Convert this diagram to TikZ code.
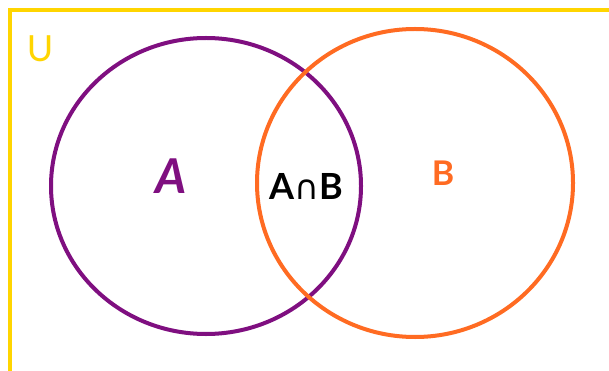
\documentclass[tikz,border=0pt]{standalone}
\usepackage{fontspec}
\setmainfont{Lato}
\newfontfamily\symfont{DejaVu Sans}
\definecolor{upurple}{HTML}{7F0F80}
\definecolor{uorange}{HTML}{FF6B22}
\definecolor{uyellow}{HTML}{FFD500}
\begin{document}
\begin{tikzpicture}[x=1pt,y=-1pt,
  setline/.style={line width=4pt},
  lbl/.style={inner sep=0pt,font=\bfseries}]
\useasboundingbox (0,0) rectangle (609,371);
\fill[white] (0,0) rectangle (609,371);
\draw[uyellow,setline] (620,10) -- (10,10) -- (10,380);
\node[inner sep=0pt] (frame) at (10,10) {};
\draw[upurple,setline] (206,186) ellipse [x radius=155, y radius=148];
\draw[uorange,setline] (415,183) ellipse [x radius=158, y radius=154];
\node[lbl,text=uyellow,font=\fontsize{36}{36}\selectfont] (u) at (40,49) {U};
\node[lbl,text=upurple,font=\fontsize{48}{48}\selectfont\bfseries\itshape] (a) at (171,176) {A};
\node[lbl,text=black,font=\fontsize{36}{36}\selectfont\bfseries] (ab) at (306,186) {A{\symfont\mdseries\fontsize{34}{34}\selectfont ∩}B};
\node[lbl,text=uorange,font=\fontsize{34}{34}\selectfont\bfseries] (b) at (443,173) {B};
\end{tikzpicture}
\end{document}
